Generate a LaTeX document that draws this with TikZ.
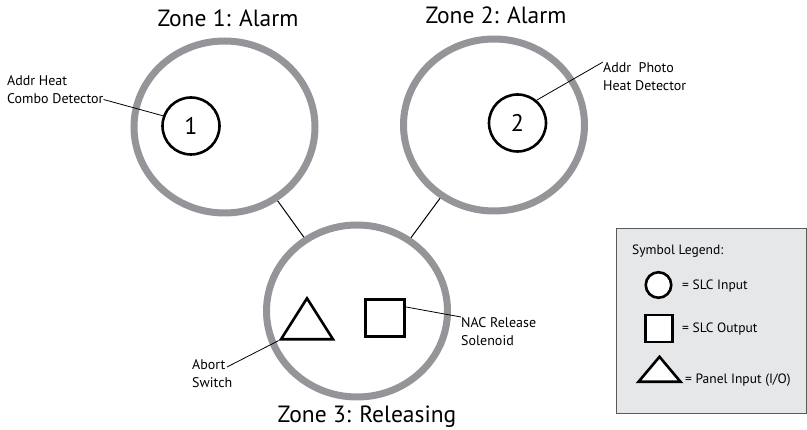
\documentclass[tikz,border=0pt]{standalone}
\usepackage{fontspec}
\setmainfont{PT Sans}
\usetikzlibrary{shapes.geometric}

\definecolor{ringgray}{HTML}{939598}
\definecolor{boxfill}{HTML}{E6E7E8}
\definecolor{boxline}{HTML}{58595B}

\begin{document}
\begin{tikzpicture}[x=1pt, y=-1pt]
    \tikzstyle{zone}=[draw=ringgray, ellipse, line width=7pt, minimum width=181pt, minimum height=172pt, inner sep=0pt];
    \tikzstyle{title}=[font=\fontsize{23.5}{28}\selectfont, anchor=base, inner sep=0pt];
    \tikzstyle{detector}=[draw, circle, line width=2.6pt, minimum size=57pt, inner sep=0pt, font=\fontsize{24}{28}\selectfont];
    \tikzstyle{output}=[draw, rectangle, line width=2.6pt, minimum width=39pt, minimum height=37pt, inner sep=0pt];
    \tikzstyle{panel}=[draw, isosceles triangle, isosceles triangle stretches, shape border rotate=90, line width=2.6pt, inner sep=0pt];
    \tikzstyle{callout}=[font=\fontsize{14}{18}\selectfont, align=left, inner sep=0pt, anchor=north west];
    \tikzstyle{key}=[font=\fontsize{13.5}{16}\selectfont, inner sep=0pt, anchor=base west];
    \tikzstyle{leader}=[line width=0.8pt];

    \useasboundingbox (0,0) rectangle (807,430);

    % zones and titles
    \node[zone] (zone1) at (224.5,127) {};
    \node[zone] (zone2) at (494,125) {};
    \node[zone] (zone3) at (357,311) {};
    \node[title] (title1) at (228,27) {Zone 1: Alarm};
    \node[title] (title2) at (496,24) {Zone 2: Alarm};
    \node[title] (title3) at (367,423) {Zone 3: Releasing};

    \draw[line width=1pt] (zone1) -- (zone3);
    \draw[line width=1pt] (zone2) -- (zone3);

    % devices
    \node[detector] (det1) at (191,126) {1};
    \node[detector] (det2) at (517.5,123) {2};
    \node[panel, minimum width=52pt, minimum height=41pt] (abort) at (307,325) {};
    \node[output] (nac) at (385,318) {};

    % callouts
    \node[callout] (heatlbl) at (7,75) {Addr Heat\\Combo Detector};
    \node[callout] (photolbl) at (603,62) {Addr\ \ Photo\\Heat Detector};
    \node[callout] (naclbl) at (461,317) {NAC Release\\Solenoid};
    \node[callout] (abortlbl) at (192,359) {Abort\\Switch};

    \draw[leader] ([yshift=4pt]heatlbl.south east) -- (det1.160);
    \draw[leader] (photolbl.north west) -- (det2.50);
    \draw[leader] (nac.28) -- (naclbl.north west);
    \draw[leader] ([xshift=35pt,yshift=-8pt]abortlbl.north west) -- (abort.left corner);

    % legend
    \node[draw=boxline, fill=boxfill, line width=0.9pt, minimum width=190pt, minimum height=185pt, inner sep=0pt] (legend) at (711,320.5) {};
    \node[key] (legtitle) at (632,255) {Symbol Legend:};
    \node[draw, circle, fill=white, line width=2.6pt, minimum size=25.5pt, inner sep=0pt] (keyin) at (658.5,285) {};
    \node[draw, rectangle, fill=white, line width=2.6pt, minimum size=27pt, inner sep=0pt] (keyout) at (659,328.5) {};
    \node[panel, fill=white, minimum width=42pt, minimum height=25pt] (keypanel) at (659.5,372) {};
    \node[key] (keyinlbl) at (682,290) {= SLC Input};
    \node[key] (keyoutlbl) at (682,333) {= SLC Output};
    \node[key] (keypanellbl) at (685,384) {= Panel Input (I/O)};
\end{tikzpicture}
\end{document}
